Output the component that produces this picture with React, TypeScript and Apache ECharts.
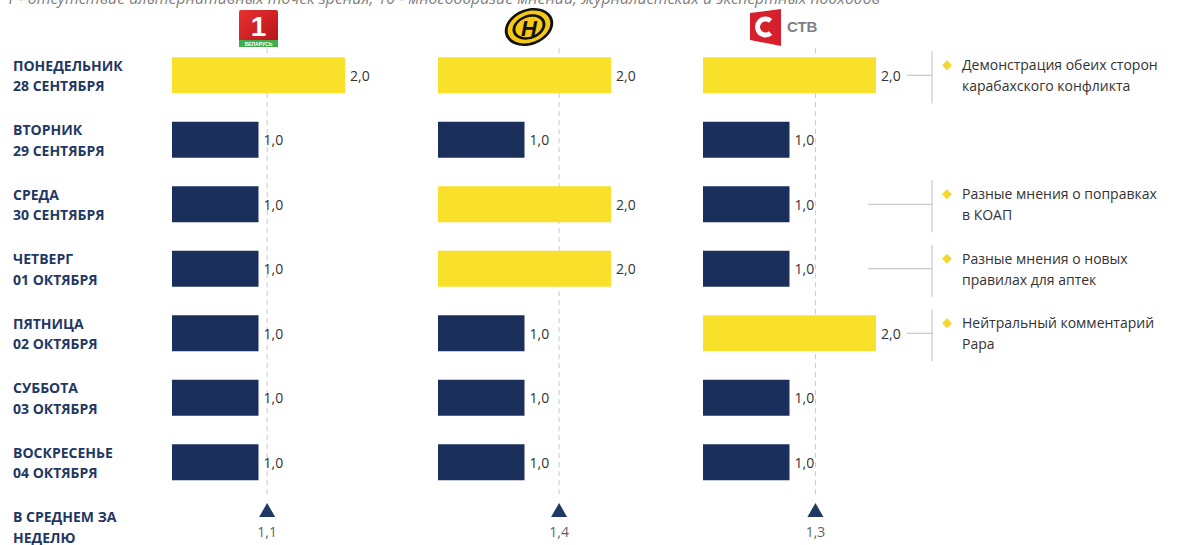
import React, { useEffect, useRef } from "react";
import * as echarts from "echarts";

const dayLabels = [
  "ПОНЕДЕЛЬНИК\n28 СЕНТЯБРЯ",
  "ВТОРНИК\n29 СЕНТЯБРЯ",
  "СРЕДА\n30 СЕНТЯБРЯ",
  "ЧЕТВЕРГ\n01 ОКТЯБРЯ",
  "ПЯТНИЦА\n02 ОКТЯБРЯ",
  "СУББОТА\n03 ОКТЯБРЯ",
  "ВОСКРЕСЕНЬЕ\n04 ОКТЯБРЯ",
  "В СРЕДНЕМ ЗА\nНЕДЕЛЮ",
];
const belarus1Values = [2, 1, 1, 1, 1, 1, 1];
const ontValues = [2, 1, 2, 2, 1, 1, 1];
const ctvValues = [2, 1, 1, 1, 2, 1, 1];
const weeklyAverages = [1.1, 1.4, 1.3];
const ctvComments = [
  "Демонстрация обеих сторон\nкарабахского конфликта",
  "",
  "Разные мнения о поправках\nв КОАП",
  "Разные мнения о новых\nправилах для аптек",
  "Нейтральный комментарий\nРара",
  "",
  "",
];
const footnote =
  "1 - отсутствие альтернативных точек зрения; 10 - многообразие мнений, журналистских и экспертных подходов";

const YELLOW = "#F9E02B";
const NAVY = "#1B2F5C";
const FONT = "'Open Sans', 'Noto Sans', sans-serif";
const fmt = (v: number) => v.toFixed(1).replace(".", ",");

const panels = [belarus1Values, ontValues, ctvValues];
const gridLefts = [172, 438, 703];

export default function App() {
  const ref = useRef<HTMLDivElement>(null);
  useEffect(() => {
    if (!ref.current) return;
    const chart = echarts.init(ref.current, null, { renderer: "svg" });
    const grids: any[] = [];
    const xAxes: any[] = [];
    const yAxes: any[] = [];
    const series: any[] = [];
    panels.forEach((vals, p) => {
      grids.push({ left: gridLefts[p], top: 43, width: 259.5, height: 516, outerBoundsMode: "none", containLabel: false });
      xAxes.push({ type: "value", gridIndex: p, min: 0, max: 3, show: false });
    });
    panels.forEach((vals, p) => {
      yAxes.push({
        type: "category",
        gridIndex: p,
        inverse: true,
        data: dayLabels,
        axisLine: { show: false },
        axisTick: { show: false },
        splitLine: { show: false },
        axisLabel: p === 0
          ? { show: true, align: "left", margin: 159, color: "#1F3864", fontWeight: "bold", fontSize: 14, lineHeight: 20.5, fontFamily: FONT }
          : { show: false },
      });
    });
    panels.forEach((vals, p) => {
      yAxes.push({ type: "value", gridIndex: p, inverse: true, min: -0.5, max: 7.5, show: false });
    });
    panels.forEach((vals, p) => {
      const avg = weeklyAverages[p];
      series.push({
        type: "line",
        xAxisIndex: p,
        yAxisIndex: 3 + p,
        data: [[avg, -0.42], [avg, 6.55]],
        symbol: "none",
        lineStyle: { color: "#C9C9C9", width: 1, type: [5, 4] },
        silent: true,
        z: 1,
      });
      series.push({
        type: "bar",
        xAxisIndex: p,
        yAxisIndex: p,
        barWidth: 36,
        data: vals.map((v) => ({ value: v, itemStyle: { color: v >= 2 ? YELLOW : NAVY } })),
        label: {
          show: true,
          position: "right",
          distance: 5,
          color: "#333",
          fontSize: 14,
          fontFamily: FONT,
          formatter: (d: any) => fmt(d.value),
        },
        z: 2,
      });
      series.push({
        type: "scatter",
        xAxisIndex: p,
        yAxisIndex: 3 + p,
        data: [[avg, 6.74]],
        symbol: "triangle",
        symbolSize: [16, 14],
        itemStyle: { color: "#1F3864", opacity: 1 },
        z: 3,
      });
      series.push({
        type: "scatter",
        xAxisIndex: p,
        yAxisIndex: 3 + p,
        data: [[avg, 7.08]],
        symbolSize: 0,
        label: {
          show: true,
          position: "inside",
          color: "#333",
          fontSize: 14,
          fontFamily: FONT,
          formatter: () => fmt(avg),
        },
        z: 3,
      });
    });

    chart.setOption({
      animation: false,
      backgroundColor: "#fff",
      grid: grids,
      xAxis: xAxes,
      yAxis: yAxes,
      series,
    });

    const gfx: any[] = [];
    gfx.push({
      type: "text",
      x: 6,
      y: 6,
      style: { text: footnote, fill: "#7F7F7F", font: `italic 15.8px ${FONT}`, verticalAlign: "bottom" },
    });
    const vx = 932;
    ctvComments.forEach((c, i) => {
      if (!c) return;
      const cy = chart.convertToPixel({ yAxisIndex: 2 }, i) as number;
      const bx = chart.convertToPixel({ xAxisIndex: 2 }, ctvValues[i]) as number;
      const startX = Math.max(bx + 31, 868);
      gfx.push({ type: "line", shape: { x1: startX, y1: cy, x2: vx, y2: cy }, style: { stroke: "#BFBFBF", lineWidth: 1 } });
      gfx.push({ type: "line", shape: { x1: vx, y1: cy - 24, x2: vx, y2: cy + 28 }, style: { stroke: "#BFBFBF", lineWidth: 1 } });
      gfx.push({
        type: "rect",
        x: 947,
        y: cy - 10,
        rotation: Math.PI / 4,
        shape: { x: -3.5, y: -3.5, width: 7, height: 7 },
        style: { fill: "#F5D531" },
      });
      gfx.push({
        type: "text",
        x: 962,
        y: cy - 21,
        style: { text: c, fill: "#333", font: `14px ${FONT}`, lineHeight: 21 },
      });
    });

    // logo: Беларусь 1
    gfx.push({
      type: "group",
      x: 239,
      y: 10,
      children: [
        {
          type: "rect",
          shape: { x: 0, y: 0, width: 39, height: 36, r: 2 },
          style: {
            fill: new echarts.graphic.LinearGradient(0, 0, 1, 1, [
              { offset: 0, color: "#E8322F" },
              { offset: 1, color: "#B5121B" },
            ]),
          },
        },
        { type: "rect", shape: { x: 0, y: 30, width: 39, height: 7 }, style: { fill: "#3DAE49" } },
        {
          type: "text",
          x: 19.5,
          y: 16,
          style: { text: "1", fill: "#fff", font: `bold 28px 'Liberation Sans', sans-serif`, align: "center", verticalAlign: "middle" },
        },
        {
          type: "text",
          x: 19.5,
          y: 34,
          style: { text: "БЕЛАРУСЬ", fill: "#fff", font: `bold 5px sans-serif`, align: "center", verticalAlign: "middle" },
        },
      ],
    });
    // logo: ОНТ
    gfx.push({
      type: "group",
      x: 529,
      y: 27,
      rotation: 0.35,
      children: [
        { type: "ellipse", shape: { cx: 0, cy: 0, rx: 25, ry: 18 }, style: { fill: "#111" } },
        { type: "ellipse", shape: { cx: 0, cy: 0, rx: 22, ry: 15.5 }, style: { fill: "#F6C915" } },
        { type: "ellipse", shape: { cx: 0, cy: 0, rx: 17, ry: 12 }, style: { fill: "#111" } },
        { type: "ellipse", shape: { cx: 0, cy: 0, rx: 14, ry: 9.5 }, style: { fill: "#F6C915" } },
      ],
    });
    gfx.push({
      type: "text",
      x: 529,
      y: 28,
      style: { text: "H", fill: "#111", font: `italic bold 22px 'Liberation Sans', sans-serif`, align: "center", verticalAlign: "middle" },
    });
    // logo: СТВ
    gfx.push({
      type: "polygon",
      shape: { points: [[750, 13], [781, 9], [781, 46], [750, 40]] },
      style: { fill: "#D7202E" },
    });
    gfx.push({
      type: "arc",
      shape: { cx: 765.5, cy: 27, r: 8, startAngle: Math.PI * 0.28, endAngle: Math.PI * 1.72 },
      style: { stroke: "#fff", lineWidth: 5, fill: "none" },
    });
    gfx.push({
      type: "text",
      x: 787,
      y: 26,
      style: { text: "СТВ", fill: "#7F7F7F", font: `bold 15px 'Liberation Sans', sans-serif`, verticalAlign: "middle" },
    });

    chart.setOption({ graphic: gfx });
    return () => chart.dispose();
  }, []);
  return <div ref={ref} style={{ width: 1179, height: 545, position: "absolute", left: 0, top: 0 }} />;
}
